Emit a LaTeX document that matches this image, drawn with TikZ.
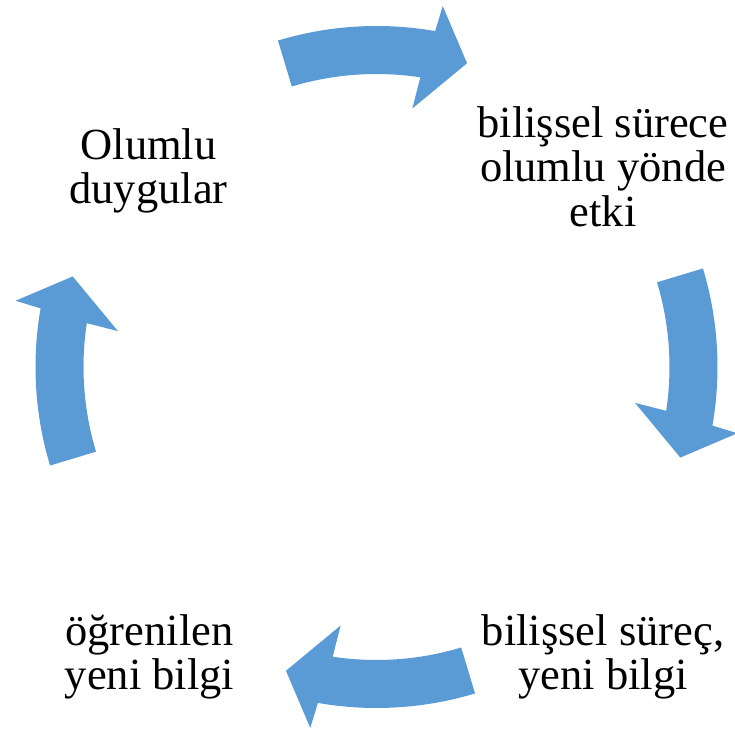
\documentclass[tikz,border=0pt]{standalone}
\usepackage{fontspec}
\setmainfont{Liberation Serif}
\definecolor{arrowblue}{RGB}{91,155,213}
\tikzset{
  lbl/.style={align=center, inner sep=0pt, anchor=base, font=\fontsize{44.5}{44.7}\selectfont},
  cyclearrow/.style={fill=arrowblue, draw=none}
}
\newcommand{\cycarrow}[1]{%
  \fill[cyclearrow] (#1+16.8:341) arc[start angle=#1+16.8, end angle=#1-9.9, radius=341]
    -- (#1-10.4:367) -- (#1-16.6:317) -- (#1-7.9:261) -- (#1-8.6:293)
    arc[start angle=#1-8.6, end angle=#1+16.8, radius=293] -- cycle;}
\begin{document}
\begin{tikzpicture}[x=1pt,y=1pt]
\useasboundingbox (0,0) rectangle (734,735);
\begin{scope}[shift={(376.5,368)}]
  \cycarrow{90}
  \cycarrow{0}
  \cycarrow{-90}
  \cycarrow{180}
\end{scope}
\node[lbl] (n1) at (148.5,531) {Olumlu\\duygular};
\node[lbl] (n2) at (603,508.3) {bilişsel sürece\\olumlu yönde\\etki};
\node[lbl] (n3) at (603,45) {bilişsel süreç,\\yeni bilgi};
\node[lbl] (n4) at (149.5,45) {öğrenilen\\yeni bilgi};
\end{tikzpicture}
\end{document}
